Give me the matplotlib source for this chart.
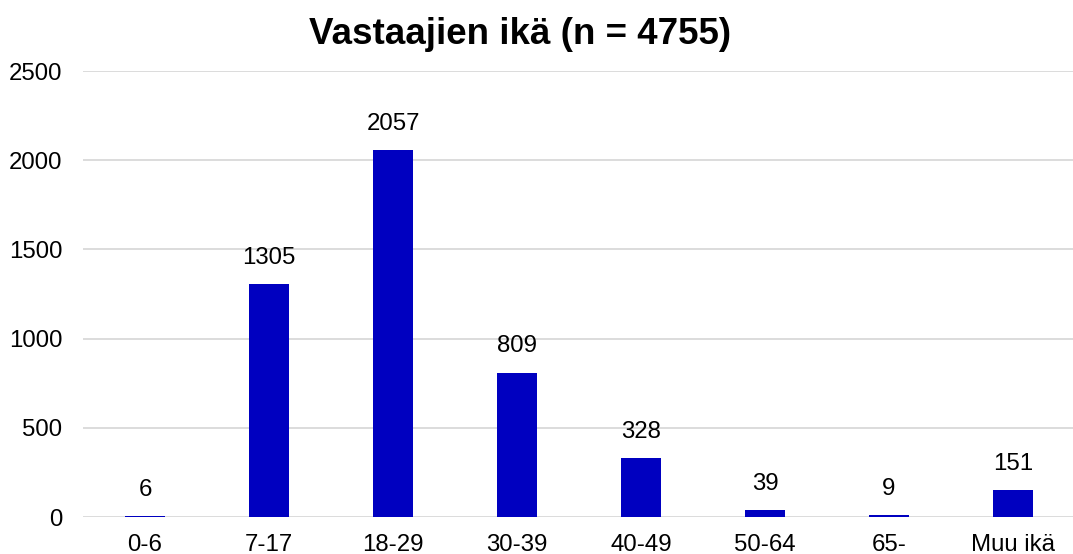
import matplotlib.pyplot as plt

plt.rcParams['font.family'] = ['Liberation Sans', 'DejaVu Sans']

categories = ['0-6', '7-17', '18-29', '30-39', '40-49', '50-64', '65-', 'Muu ikä']
counts = [6, 1305, 2057, 809, 328, 39, 9, 151]
yticks = [0, 500, 1000, 1500, 2000, 2500]

fig = plt.figure(figsize=(10.73, 5.54), dpi=100)
ax = fig.add_axes([83 / 1073, 37 / 554, 992 / 1073, 446 / 554])

x = range(len(categories))
bars = ax.bar(x, counts, width=0.315, color='#0000C0', zorder=3)
for b, v in zip(bars, counts):
    ax.annotate(str(v), (b.get_x() + b.get_width() / 2, v),
                xytext=(0, 11), textcoords='offset points',
                ha='center', va='bottom', fontsize=17.3)

ax.set_xlim(-0.5, len(categories) - 0.5)
ax.set_ylim(0, 2500)
ax.set_yticks(yticks)
ax.set_xticks(list(x))
ax.set_xticklabels(categories)
ax.tick_params(axis='both', length=0, labelsize=17.3)
ax.tick_params(axis='y', pad=15)
ax.tick_params(axis='x', pad=12)
ax.yaxis.grid(True, color='#D9D9D9', linewidth=1.3, zorder=0)
for s in ax.spines.values():
    s.set_visible(False)

fig.text(520 / 1073, 1 - 35 / 554, 'Vastaajien ikä (n = 4755)', ha='center', va='center',
         fontsize=26.5, fontweight='bold')

fig.savefig('out.png', dpi=100)
